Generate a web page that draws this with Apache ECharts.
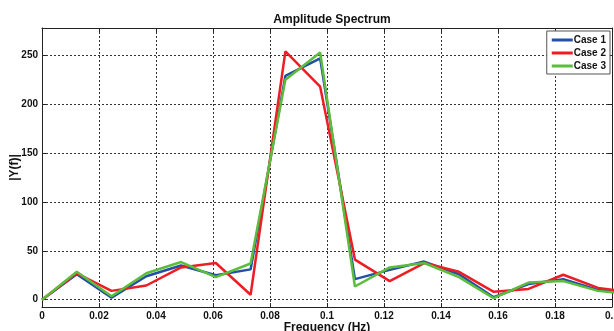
<!DOCTYPE html>
<html>
<head>
<meta charset="utf-8">
<script src="https://cdn.jsdelivr.net/npm/echarts@6/dist/echarts.min.js"></script>
<style>
html,body{margin:0;padding:0;background:#fff;}
#c{width:614px;height:331px;}
</style>
</head>
<body>
<div id="c"></div>
<script>
var freq = [0, 0.0122, 0.0244, 0.0366, 0.0488, 0.061, 0.0732, 0.0854, 0.0976, 0.1098, 0.122, 0.1341, 0.1463, 0.1585, 0.1707, 0.1829, 0.1951, 0.2073];
var case1 = [0, 26, 2, 24, 35, 25, 31, 229, 247, 21, 30.5, 39, 26, 2.5, 16, 21, 10, 6];
var case2 = [0, 27, 9, 14.5, 33, 37.5, 5, 254, 218, 41, 19, 37.5, 28.5, 8, 11, 25.5, 12, 7.5];
var case3 = [0, 28.5, 3.5, 27, 38.5, 23, 37, 225, 253, 13.5, 33, 37.5, 23, 1.5, 17.5, 19, 9, 5.5];
var seriesNames = ['Case 1', 'Case 2', 'Case 3'];
var seriesColors = ['#2150a6', '#ee1d25', '#5cbd3c'];
var yTicks = [0, 50, 100, 150, 200, 250];

function pairs(ys) { return freq.map(function (f, i) { return [f, ys[i]]; }); }

var font = '"Liberation Sans", Arial, sans-serif';
var chart = echarts.init(document.getElementById('c'), null, { renderer: 'canvas' });
var gridLine = { show: true, lineStyle: { color: '#333', type: [2, 2], width: 1 } };
var option = {
  backgroundColor: '#fff',
  animation: false,
  title: {
    text: 'Amplitude Spectrum', left: 327, top: 9, textAlign: 'center',
    textStyle: { fontFamily: font, fontSize: 12, fontWeight: 'bold', color: '#111' }
  },
  legend: {
    orient: 'vertical', right: 4, top: 31,
    backgroundColor: '#fff', borderColor: '#555', borderWidth: 1,
    padding: [3, 4, 2, 5], itemGap: 1, itemWidth: 21, itemHeight: 3, icon: 'rect',
    textStyle: { fontFamily: font, fontSize: 10, fontWeight: 'bold', color: '#111', padding: [0, 0, 0, -4], lineHeight: 12 },
    data: seriesNames
  },
  grid: { left: 42, right: 2, top: 28, bottom: 24, containLabel: false, outerBoundsMode: 'none' },
  xAxis: [{
    type: 'value', min: 0, max: 0.2, interval: 0.02,
    name: 'Frequency (Hz)', nameLocation: 'middle', nameGap: 15, nameMoveOverlap: false,
    nameTextStyle: { fontFamily: font, fontSize: 12, fontWeight: 'bold', color: '#111' },
    axisLine: { show: true, onZero: false, lineStyle: { color: '#222', width: 1 } },
    axisTick: { show: true, inside: true, length: 4, lineStyle: { color: '#222' } },
    axisLabel: { fontFamily: font, fontSize: 10, fontWeight: 'bold', color: '#111', margin: 4, hideOverlap: false },
    splitLine: gridLine
  }, {
    type: 'value', position: 'top', min: 0, max: 0.2, interval: 0.02,
    axisLine: { show: true, onZero: false, lineStyle: { color: '#222', width: 1 } },
    axisTick: { show: true, inside: true, length: 4, lineStyle: { color: '#222' } },
    axisLabel: { show: false }, splitLine: { show: false }
  }],
  yAxis: [{
    type: 'value', min: -7.5, max: 278,
    name: '|Y(f)|', nameLocation: 'middle', nameGap: 21, nameRotate: 90, nameMoveOverlap: false,
    nameTextStyle: { fontFamily: font, fontSize: 12, fontWeight: 'bold', color: '#111' },
    axisLine: { show: true, onZero: false, lineStyle: { color: '#222', width: 1 } },
    axisTick: { show: true, inside: true, length: 4, customValues: yTicks, lineStyle: { color: '#222' } },
    axisLabel: { fontFamily: font, fontSize: 10, fontWeight: 'bold', color: '#111', margin: 4, customValues: yTicks },
    splitLine: gridLine
  }, {
    type: 'value', position: 'right', min: -7.5, max: 278,
    axisLine: { show: true, onZero: false, lineStyle: { color: '#222', width: 1 } },
    axisTick: { show: true, inside: true, length: 4, customValues: yTicks, lineStyle: { color: '#222' } },
    axisLabel: { show: false }, splitLine: { show: false }
  }],
  series: [case1, case2, case3].map(function (ys, i) {
    return {
      name: seriesNames[i], type: 'line', data: pairs(ys), xAxisIndex: 0, yAxisIndex: 0,
      symbol: 'none', clip: true, z: 3 + i,
      lineStyle: { color: seriesColors[i], width: 2.5 },
      itemStyle: { color: seriesColors[i] }
    };
  })
};
chart.setOption(option);
</script>
</body>
</html>
